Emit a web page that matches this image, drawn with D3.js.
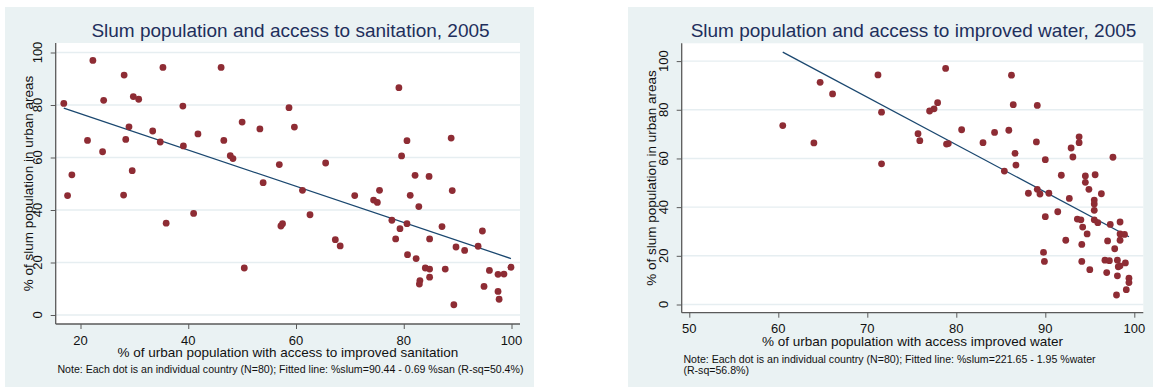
<!DOCTYPE html>
<html>
<head>
<meta charset="utf-8">
<script src="https://cdn.jsdelivr.net/npm/d3@7"></script>
<style>
  html, body { margin: 0; padding: 0; background: #ffffff; }
  svg { display: block; font-family: "Liberation Sans", Arial, Helvetica, sans-serif; }
</style>
</head>
<body>
<svg id="chart" width="1153" height="387"></svg>
<script>
// Urban access to improved sanitation (%) and slum share (%), one entry per country
const sanitationAccess = [
  16.9, 18.4, 22.3, 21.3, 24.3, 24.1, 28.1, 28.4, 29.0, 29.8, 30.8, 29.6, 33.4, 34.8, 35.3,
  39.0, 39.1, 41.8, 46.1, 46.6, 47.8, 48.3, 50.0, 53.3, 53.9, 56.9, 58.7, 59.7,
  65.5, 79.1, 80.6, 79.6, 88.8, 82.1, 84.7,
  17.6, 28.0, 35.9, 41.0, 50.4, 57.2, 57.5,
  61.2, 62.6, 67.3, 68.2, 70.9, 74.4, 75.1, 75.5, 77.8, 79.3, 78.5, 80.6, 81.2, 82.8,
  80.7, 82.3, 84.0, 84.8, 84.8, 83.0, 82.9, 84.8, 87.1, 87.7, 89.0, 89.3, 89.7, 91.3,
  93.8, 94.6, 94.9, 95.9, 97.5, 98.6, 97.5, 97.7, 99.9
];
const slumSanitation = [
  80.6, 53.4, 97.0, 66.5, 81.8, 62.2, 91.4, 66.9, 71.7, 83.2, 82.2, 55.0, 70.1, 65.9, 94.3,
  79.6, 64.4, 69.0, 94.3, 66.5, 60.7, 59.6, 73.5, 70.9, 50.4, 57.3, 79.0, 71.6,
  57.9, 86.6, 66.4, 60.6, 67.4, 53.2, 52.8,
  45.5, 45.7, 35.0, 38.7, 17.9, 33.9, 34.8,
  47.5, 38.2, 28.7, 26.3, 45.5, 43.8, 42.9, 47.5, 36.1, 32.9, 29.0, 34.8, 45.6, 41.3,
  23.0, 21.5, 17.9, 17.5, 14.4, 13.1, 11.8, 29.0, 33.7, 17.5, 47.4, 3.9, 25.9, 24.6,
  26.2, 32.0, 10.9, 17.0, 15.5, 15.6, 9.0, 6.0, 18.2
];

// Urban access to improved water (%) and slum share (%)
const waterAccess = [
  64.7, 66.1, 71.2, 71.6, 60.5, 64.0, 71.6,
  78.8, 86.2, 77.9, 77.5, 77.0, 86.4, 89.1, 75.7, 75.9, 80.6, 78.9, 79.1,
  83.0, 84.3, 85.9, 89.0, 86.6, 86.7, 85.4, 90.0, 92.9, 93.8, 93.8, 93.1, 97.6,
  91.8, 94.5, 95.6, 94.5, 94.9, 96.3, 88.1, 89.1, 89.4, 90.4, 92.7, 95.5, 95.5,
  95.5, 91.4, 90.0, 93.6, 94.0, 95.5, 95.9, 97.3, 98.4, 94.2, 94.7, 98.4, 98.9,
  92.3, 97.0, 98.4, 94.1, 97.8, 89.8, 89.9, 94.1, 96.7, 97.2, 98.1, 99.0,
  98.2, 98.4, 95.0, 96.9, 98.1, 99.4, 99.4, 99.1, 98.0
];
const slumWater = [
  91.3, 86.5, 94.3, 79.0, 73.5, 66.4, 57.8,
  97.0, 94.2, 82.9, 80.4, 79.5, 82.1, 81.8, 70.2, 67.3, 71.8, 65.9, 66.1,
  66.5, 70.7, 71.6, 66.8, 62.1, 57.3, 54.8, 59.5, 64.3, 68.9, 66.5, 60.6, 60.5,
  53.1, 52.8, 53.3, 50.2, 47.3, 45.5, 45.7, 47.3, 45.4, 45.7, 43.6, 42.9, 41.3,
  38.7, 38.1, 36.1, 35.1, 34.8, 34.8, 33.6, 32.9, 33.9, 31.8, 29.0, 29.0, 28.8,
  26.4, 26.1, 26.4, 24.7, 22.9, 21.4, 17.7, 17.7, 18.2, 18.0, 18.2, 17.1,
  15.5, 15.9, 14.3, 13.1, 11.8, 10.8, 9.0, 6.1, 3.9
];

// Fitted lines (intercept, slope)
const sanitationFit = [90.44, -0.69];
const waterFit = [221.65, -1.95];

// Axis ticks
const sanitationTicks = [20, 40, 60, 80, 100];
const waterTicks = [50, 60, 70, 80, 90, 100];
const slumTicks = [0, 20, 40, 60, 80, 100];

const titles = [
  "Slum population and access to sanitation, 2005",
  "Slum population and access to improved water, 2005"
];
const xTitles = [
  "% of urban population with access to improved sanitation",
  "% of urban population with access improved water"
];
const yTitle = "% of slum population in urban areas";
const notes = [
  ["Note: Each dot is an individual country (N=80); Fitted line: %slum=90.44 - 0.69 %san (R-sq=50.4%)"],
  ["Note: Each dot is an individual country (N=80); Fitted line: %slum=221.65 - 1.95 %water",
   "(R-sq=56.8%)"]
];

const COLORS = {
  panel: "#eaf2f3",
  grid: "#e6eef1",
  axis: "#5a5a5a",
  dot: "#8e2c34",
  fit: "#1a476f",
  title: "#1e2f5c",
  text: "#111111"
};

const svg = d3.select("#chart");

function drawPanel(cfg) {
  const g = svg.append("g");

  // graph region
  g.append("rect")
    .attr("x", cfg.panel[0]).attr("y", cfg.panel[1])
    .attr("width", cfg.panel[2]).attr("height", cfg.panel[3])
    .attr("fill", COLORS.panel);

  // plot region
  g.append("rect")
    .attr("x", cfg.plot.left).attr("y", cfg.plot.top)
    .attr("width", cfg.plot.right - cfg.plot.left)
    .attr("height", cfg.plot.bottom - cfg.plot.top)
    .attr("fill", "#ffffff");

  const x = d3.scaleLinear().domain(cfg.xDomain).range(cfg.xRange);
  const y = d3.scaleLinear().domain([0, 100]).range(cfg.yRange);

  // horizontal grid
  g.append("g").selectAll("line").data(slumTicks).join("line")
    .attr("x1", cfg.plot.left).attr("x2", cfg.plot.right)
    .attr("y1", d => y(d)).attr("y2", d => y(d))
    .attr("stroke", COLORS.grid).attr("stroke-width", 1.4);

  // y axis
  const yAxis = g.append("g")
    .attr("transform", `translate(${cfg.plot.left},0)`)
    .call(d3.axisLeft(y).tickValues(slumTicks).tickSize(5).tickSizeOuter(0).tickFormat(""));
  yAxis.select(".domain").attr("d", `M0,${cfg.plot.top}V${cfg.plot.bottom}`)
    .attr("stroke", COLORS.axis).attr("stroke-width", 1.3);
  yAxis.selectAll(".tick line").attr("stroke", COLORS.axis).attr("stroke-width", 1);

  g.append("g").selectAll("text").data(slumTicks).join("text")
    .attr("transform", d => `translate(${cfg.plot.left - 18},${y(d)}) rotate(-90)`)
    .attr("text-anchor", "middle")
    .attr("dominant-baseline", "central")
    .attr("font-size", 13)
    .attr("fill", COLORS.text)
    .text(d => d);

  // x axis
  const xAxis = g.append("g")
    .attr("transform", `translate(0,${cfg.plot.bottom})`)
    .call(d3.axisBottom(x).tickValues(cfg.xTicks).tickSize(5).tickSizeOuter(0).tickFormat(""));
  xAxis.select(".domain").attr("d", `M${cfg.plot.left},0H${cfg.plot.right}`)
    .attr("stroke", COLORS.axis).attr("stroke-width", 1.3);
  xAxis.selectAll(".tick line").attr("stroke", COLORS.axis).attr("stroke-width", 1);

  g.append("g").selectAll("text").data(cfg.xTicks).join("text")
    .attr("x", d => x(d))
    .attr("y", cfg.plot.bottom + 16)
    .attr("text-anchor", "middle")
    .attr("dominant-baseline", "central")
    .attr("font-size", 13)
    .attr("fill", COLORS.text)
    .text(d => d);

  // fitted line across the observed range
  const [xmin, xmax] = d3.extent(cfg.xs);
  const fit = v => cfg.fit[0] + cfg.fit[1] * v;
  g.append("line")
    .attr("x1", x(xmin)).attr("y1", y(fit(xmin)))
    .attr("x2", x(xmax)).attr("y2", y(fit(xmax)))
    .attr("stroke", COLORS.fit).attr("stroke-width", 1.3);

  // countries
  g.append("g").selectAll("circle").data(d3.range(cfg.xs.length)).join("circle")
    .attr("cx", i => x(cfg.xs[i]))
    .attr("cy", i => y(cfg.ys[i]))
    .attr("r", 3.4)
    .attr("fill", COLORS.dot);

  // titles
  g.append("text")
    .attr("x", cfg.titleX)
    .attr("y", 36.5)
    .attr("text-anchor", "middle")
    .attr("font-size", 19)
    .attr("fill", COLORS.title)
    .text(cfg.title);

  g.append("text")
    .attr("x", (cfg.plot.left + cfg.plot.right) / 2)
    .attr("y", cfg.xTitleY)
    .attr("text-anchor", "middle")
    .attr("dominant-baseline", "central")
    .attr("font-size", 13.5)
    .attr("fill", COLORS.text)
    .text(cfg.xTitle);

  g.append("text")
    .attr("transform", `translate(${cfg.yTitleX},${(cfg.plot.top + cfg.plot.bottom) / 2}) rotate(-90)`)
    .attr("text-anchor", "middle")
    .attr("dominant-baseline", "central")
    .attr("font-size", 13.5)
    .attr("fill", COLORS.text)
    .text(yTitle);

  g.append("g").selectAll("text").data(cfg.note).join("text")
    .attr("x", cfg.noteX)
    .attr("y", (d, i) => cfg.noteY + i * 10.5)
    .attr("dominant-baseline", "central")
    .attr("font-size", 10.6)
    .attr("fill", COLORS.text)
    .text(d => d);
}

drawPanel({
  panel: [5, 7, 529, 380],
  plot: { left: 55.7, right: 520, top: 43, bottom: 324 },
  xDomain: [20, 100], xRange: [80.5, 511.5],
  yRange: [315, 52.5],
  xTicks: sanitationTicks,
  xs: sanitationAccess, ys: slumSanitation, fit: sanitationFit,
  title: titles[0], titleX: 290.5, xTitle: xTitles[0],
  xTitleY: 352.7, yTitleX: 28.7,
  note: notes[0], noteX: 57.4, noteY: 369.3
});

drawPanel({
  panel: [628, 7, 525, 380],
  plot: { left: 681.7, right: 1143.3, top: 43.3, bottom: 312.7 },
  xDomain: [50, 100], xRange: [689.3, 1134.3],
  yRange: [304.5, 61.1],
  xTicks: waterTicks,
  xs: waterAccess, ys: slumWater, fit: waterFit,
  title: titles[1], titleX: 913.5, xTitle: xTitles[1],
  xTitleY: 341.7, yTitleX: 651,
  note: notes[1], noteX: 683.4, noteY: 359
});
</script>
</body>
</html>
